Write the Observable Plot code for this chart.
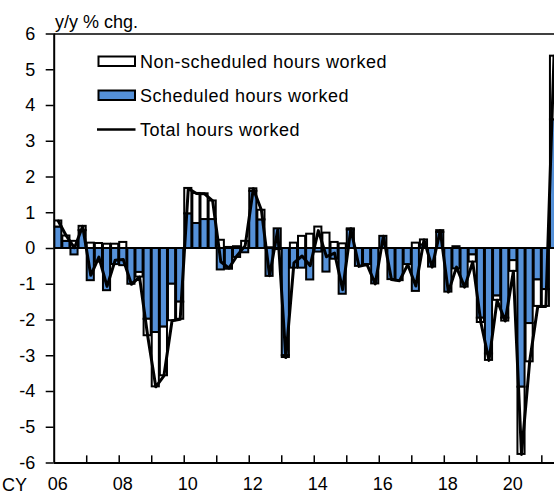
<!DOCTYPE html>
<html><head><meta charset="utf-8">
<script src="https://cdn.jsdelivr.net/npm/d3@7"></script>
<script src="https://cdn.jsdelivr.net/npm/@observablehq/plot@0.6"></script>
<style>body{margin:0;background:#fff}</style>
</head><body><div id="chart"></div>
<script>
// Quarterly data, 2006Q1 .. 2021Q2, y/y % chg.
const startYear = 2006;
const scheduled = [
  0.60, 0.20, -0.18, 0.50,  -0.90, -0.38, -1.18, -0.45,
  -0.48, -1.00, -0.67, -1.98,  -2.35, -2.20, -1.00, -1.50,
  0.97, 0.70, 0.81, 0.81,  -0.60, -0.58, -0.25, -0.12,
  1.60, 0.80, -0.78, 0.55,  -3.00, -0.55, -0.55, -0.88,
  -0.10, -0.66, -0.30, -1.28,  0.52, -0.50, -0.45, -0.99,
  0.34, -0.87, -0.90, -0.45,  -1.20, 0.10, -0.52, 0.45,
  -1.22, -0.57, -1.08, -0.18,  -1.95, -2.95, -1.33, -1.95,
  -0.34, -3.88, -2.10, -0.88,  -1.15, 3.60
];
const nonScheduled = [
  0.17, 0.15, 0.20, 0.12,  0.15, 0.14, 0.12, 0.12,
  0.17, 0.00, -0.13, -0.46,  -1.52, -1.36, -1.02, -0.48,
  0.71, 0.84, 0.72, 0.52,  0.23, 0.03, 0.05, 0.20,
  0.07, 0.27, 0.02, -0.03,  -0.05, 0.15, 0.34, 0.40,
  0.60, 0.43, 0.17, 0.13,  0.03, 0.00, 0.00, 0.00,
  0.00, 0.00, 0.00, 0.00,  0.15, 0.14, 0.00, 0.05,
  0.00, 0.05, 0.00, -0.20,  -0.12, -0.18, -0.12, -0.08,
  -0.30, -1.88, -1.07, -0.74,  -0.47, 1.78
];
const total = [
  0.77, 0.35, 0.02, 0.62,  -0.75, -0.24, -1.06, -0.33,
  -0.31, -1.00, -0.80, -2.44,  -3.87, -3.56, -2.02, -1.98,
  1.68, 1.54, 1.53, 1.33,  -0.37, -0.55, -0.20, 0.08,
  1.67, 1.07, -0.76, 0.52,  -3.05, -0.40, -0.21, -0.48,
  0.50, -0.23, -0.13, -1.15,  0.55, -0.50, -0.45, -0.99,
  0.34, -0.87, -0.90, -0.45,  -1.05, 0.24, -0.52, 0.50,
  -1.22, -0.52, -1.08, -0.38,  -2.07, -3.13, -1.45, -2.03,
  -0.64, -5.76, -3.17, -1.62,  -1.62, 5.38
];
const seriesNames = ["Non-scheduled hours worked", "Scheduled hours worked", "Total hours worked"];
const yTicks = [-6, -5, -4, -3, -2, -1, 0, 1, 2, 3, 4, 5, 6];
const labelYears = [2006, 2008, 2010, 2012, 2014, 2016, 2018, 2020];
const yearLabels = ["06", "08", "10", "12", "14", "16", "18", "20"];
const tickYears = [2007, 2008, 2009, 2010, 2011, 2012, 2013, 2014, 2015, 2016, 2017, 2018, 2019, 2020, 2021];
const blue = "#5591d9";
const font = "'Liberation Sans', Arial, sans-serif";

const bars = [];
scheduled.forEach((v, i) => {
  const x1 = startYear + i / 4;
  bars.push({x1, x2: x1 + 0.25, v, s: "sched"});
  bars.push({x1, x2: x1 + 0.25, v: nonScheduled[i], s: "non"});
});
const linePts = total.map((v, i) => ({x: startYear + i / 4 + 0.125, v}));
const yMin = d3.min(yTicks), yMax = d3.max(yTicks);

const plot = Plot.plot({
  width: 554, height: 499,
  marginLeft: 53.7, marginRight: 0, marginTop: 33.5, marginBottom: 36.5,
  style: {fontFamily: font, fontSize: "18px", color: "#000", background: "#fff"},
  x: {domain: [startYear, 2021.39], axis: null, label: null},
  y: {domain: [yMin, yMax], axis: null, label: null},
  color: {domain: ["sched", "non"], range: [blue, "#fff"]},
  marks: [
    Plot.rectY(bars, {x1: "x1", x2: "x2", y: "v", z: "s", order: ["sched", "non"], fill: "s",
      stroke: "#000", strokeWidth: 2, insetLeft: 0.5, insetRight: 0.5, clip: true}),
    Plot.ruleY([0], {stroke: "#000", strokeWidth: 1.2}),
    Plot.lineY(linePts, {x: "x", y: "v", stroke: "#000", strokeWidth: 3, clip: true}),
    Plot.ruleY([yMax], {stroke: "#000", strokeWidth: 1.5}),
    Plot.ruleY([yMin], {stroke: "#000", strokeWidth: 2}),
    Plot.ruleX([startYear], {stroke: "#000", strokeWidth: 2}),
    Plot.ruleX(tickYears, {y1: yMin, y2: yMin + 0.2, stroke: "#000", strokeWidth: 1.5}),
    Plot.axisY({ticks: yTicks, tickSize: 8, tickPadding: 11, tickFormat: d => String(d), strokeWidth: 1.5, label: null}),
    Plot.axisX({ticks: labelYears, tickSize: 0, tickPadding: 14, dx: 3.5, label: null,
      tickFormat: d => yearLabels[labelYears.indexOf(d)]})
  ]
});

const svg = d3.select(plot);
svg.append("text").attr("x", 55).attr("y", 28).attr("text-anchor", "start").attr("font-size", 18).attr("font-family", font).text("y/y % chg.");
svg.append("text").attr("x", 2).attr("y", 491).attr("text-anchor", "start").attr("font-size", 18).attr("font-family", font).text("CY");

const lg = svg.append("g").attr("font-family", font).attr("font-size", 18).attr("letter-spacing", "0.5px").attr("text-anchor", "start");
lg.append("rect").attr("x", 98.5).attr("y", 56.5).attr("width", 36.5).attr("height", 9.5).attr("fill", "#fff").attr("stroke", "#000").attr("stroke-width", 2);
lg.append("text").attr("x", 140).attr("y", 67.5).text(seriesNames[0]);
lg.append("rect").attr("x", 98.5).attr("y", 90.5).attr("width", 36.5).attr("height", 9.5).attr("fill", blue).attr("stroke", "#000").attr("stroke-width", 2);
lg.append("text").attr("x", 140).attr("y", 101.5).text(seriesNames[1]);
lg.append("line").attr("x1", 97).attr("x2", 135.5).attr("y1", 129.5).attr("y2", 129.5).attr("stroke", "#000").attr("stroke-width", 2.5);
lg.append("text").attr("x", 140).attr("y", 135.5).text(seriesNames[2]);

document.getElementById("chart").appendChild(plot);
</script>
</body></html>
